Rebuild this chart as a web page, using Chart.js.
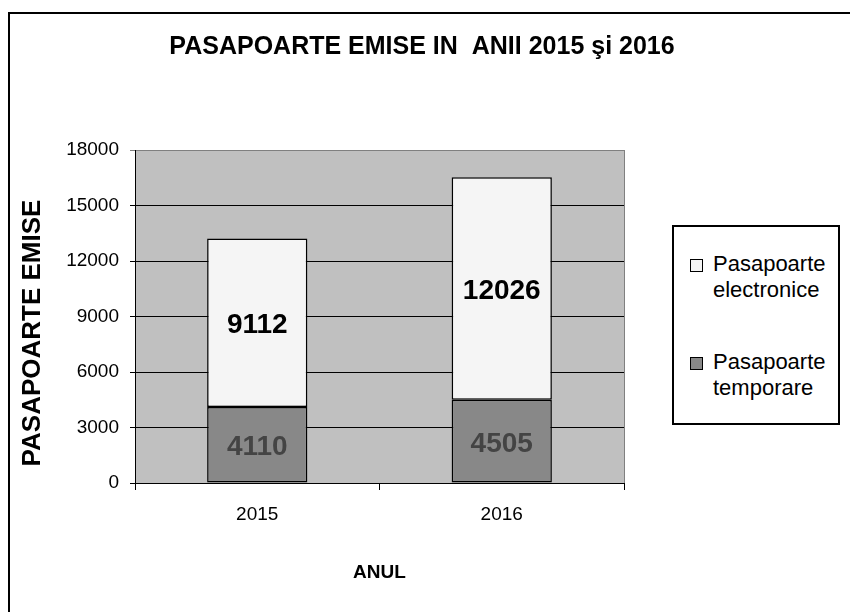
<!DOCTYPE html>
<html>
<head>
<meta charset="utf-8">
<script src="https://cdn.jsdelivr.net/npm/chart.js@4.4.0/dist/chart.umd.min.js"></script>
<style>
  body { margin: 0; background: #fff; overflow: hidden; }
  #wrap { position: relative; width: 850px; height: 612px; overflow: hidden; font-family: "Liberation Sans", Arial, sans-serif; }
  #frame { position: absolute; left: 8px; top: 12px; width: 900px; height: 700px; border: 2px solid #000; }
  #myChart { position: absolute; left: 0; top: 0; }
  #legend { position: absolute; left: 672px; top: 225px; width: 164px; height: 196px; border: 2px solid #000; background: #fff; }
  .item { position: absolute; left: 16px; font-size: 22px; line-height: 26px; color: #000; }
  .box { position: absolute; left: 0; top: 8px; width: 11px; height: 11px; border: 1px solid #000; }
  .txt { margin-left: 23px; }
</style>
</head>
<body>
<div id="wrap">
  <div id="frame"></div>
  <canvas id="myChart" width="850" height="612"></canvas>
  <div id="legend"></div>
</div>
<script>
var years = ["2015", "2016"];
var temporare = [4110, 4505];
var electronice = [9112, 12026];
var yTicks = [0, 3000, 6000, 9000, 12000, 15000, 18000];

var FONT = '"Liberation Sans", Arial, sans-serif';
Chart.defaults.font.family = FONT;
Chart.defaults.color = '#000';

var extras = {
    id: 'extras',
    beforeDraw: function(chart) {
        var a = chart.chartArea, c = chart.ctx;
        c.save();
        c.fillStyle = '#c0c0c0';
        c.fillRect(a.left, a.top, a.right - a.left, a.bottom - a.top);
        c.strokeStyle = '#808080';
        c.lineWidth = 1;
        c.beginPath();
        c.moveTo(a.right + 0.5, a.top);
        c.lineTo(a.right + 0.5, a.bottom);
        c.stroke();
        c.restore();
    },
    afterDatasetsDraw: function(chart) {
        var c = chart.ctx;
        c.save();
        c.font = 'bold 28px ' + FONT;
        c.textAlign = 'center';
        c.textBaseline = 'middle';
        chart.data.datasets.forEach(function(ds, i) {
            chart.getDatasetMeta(i).data.forEach(function(bar, j) {
                var p = bar.getCenterPoint();
                c.fillStyle = ds.labelColor;
                c.fillText(ds.data[j], p.x, p.y + 3);
            });
        });
        c.restore();
    },
    afterDraw: function(chart) {
        var c = chart.ctx;
        c.save();
        c.fillStyle = '#000';
        c.textAlign = 'center';
        c.textBaseline = 'middle';
        c.font = 'bold 25px ' + FONT;
        c.fillText('PASAPOARTE EMISE IN  ANII 2015 şi 2016', 422, 47);
        c.translate(33, 333);
        c.rotate(-Math.PI / 2);
        c.font = 'bold 26px ' + FONT;
        c.fillText('PASAPOARTE EMISE', 0, 0);
        c.restore();
    }
};

var ctx = document.getElementById('myChart').getContext('2d');
var myChart = new Chart(ctx, {
    type: 'bar',
    data: {
        labels: years,
        datasets: [{
            label: 'Pasapoarte temporare',
            data: temporare,
            backgroundColor: '#888888',
            labelColor: '#444444',
            borderColor: '#000',
            borderWidth: 1.5,
            borderSkipped: false
        }, {
            label: 'Pasapoarte electronice',
            data: electronice,
            backgroundColor: '#f5f5f5',
            labelColor: '#000000',
            borderColor: '#000',
            borderWidth: 1.5,
            borderSkipped: false
        }]
    },
    options: {
        responsive: false,
        animation: false,
        layout: { padding: { left: 8, right: 226, top: 150, bottom: 0 } },
        datasets: { bar: { barPercentage: 0.41, categoryPercentage: 1.0 } },
        plugins: {
            legend: { display: false },
            tooltip: { enabled: false }
        },
        scales: {
            x: {
                stacked: true,
                grid: { drawOnChartArea: false, color: '#000', tickLength: 7 },
                border: { color: '#000' },
                ticks: { font: { size: 19 }, padding: 13 },
                title: { display: true, text: 'ANUL', font: { size: 19, weight: 'bold' }, padding: { top: 0, bottom: 28 } },
                afterFit: function(scale) { scale.height = 129; }
            },
            y: {
                stacked: true,
                min: 0,
                max: 18000,
                afterBuildTicks: function(scale) {
                    scale.ticks = yTicks.map(function(v) { return { value: v }; });
                },
                grid: {
                    color: function(c) { return c.tick && c.tick.value === 18000 ? '#808080' : '#000'; },
                    tickLength: 5
                },
                border: { color: '#000' },
                ticks: { font: { size: 19 }, padding: 11, callback: function(v) { return v; } },
                afterFit: function(scale) { scale.width = 127; }
            }
        }
    },
    plugins: [extras]
});

// legend, electronice on top like the original
var legend = document.getElementById('legend');
var tops = [24, 122];
myChart.data.datasets.slice().reverse().forEach(function(ds, i) {
    var words = ds.label.split(' ');
    var item = document.createElement('div');
    item.className = 'item';
    item.style.top = tops[i] + 'px';
    item.innerHTML = '<span class="box" style="background:' + ds.backgroundColor + '"></span>' +
        '<div class="txt">' + words[0] + '<br>' + words.slice(1).join(' ') + '</div>';
    legend.appendChild(item);
});
</script>
</body>
</html>
